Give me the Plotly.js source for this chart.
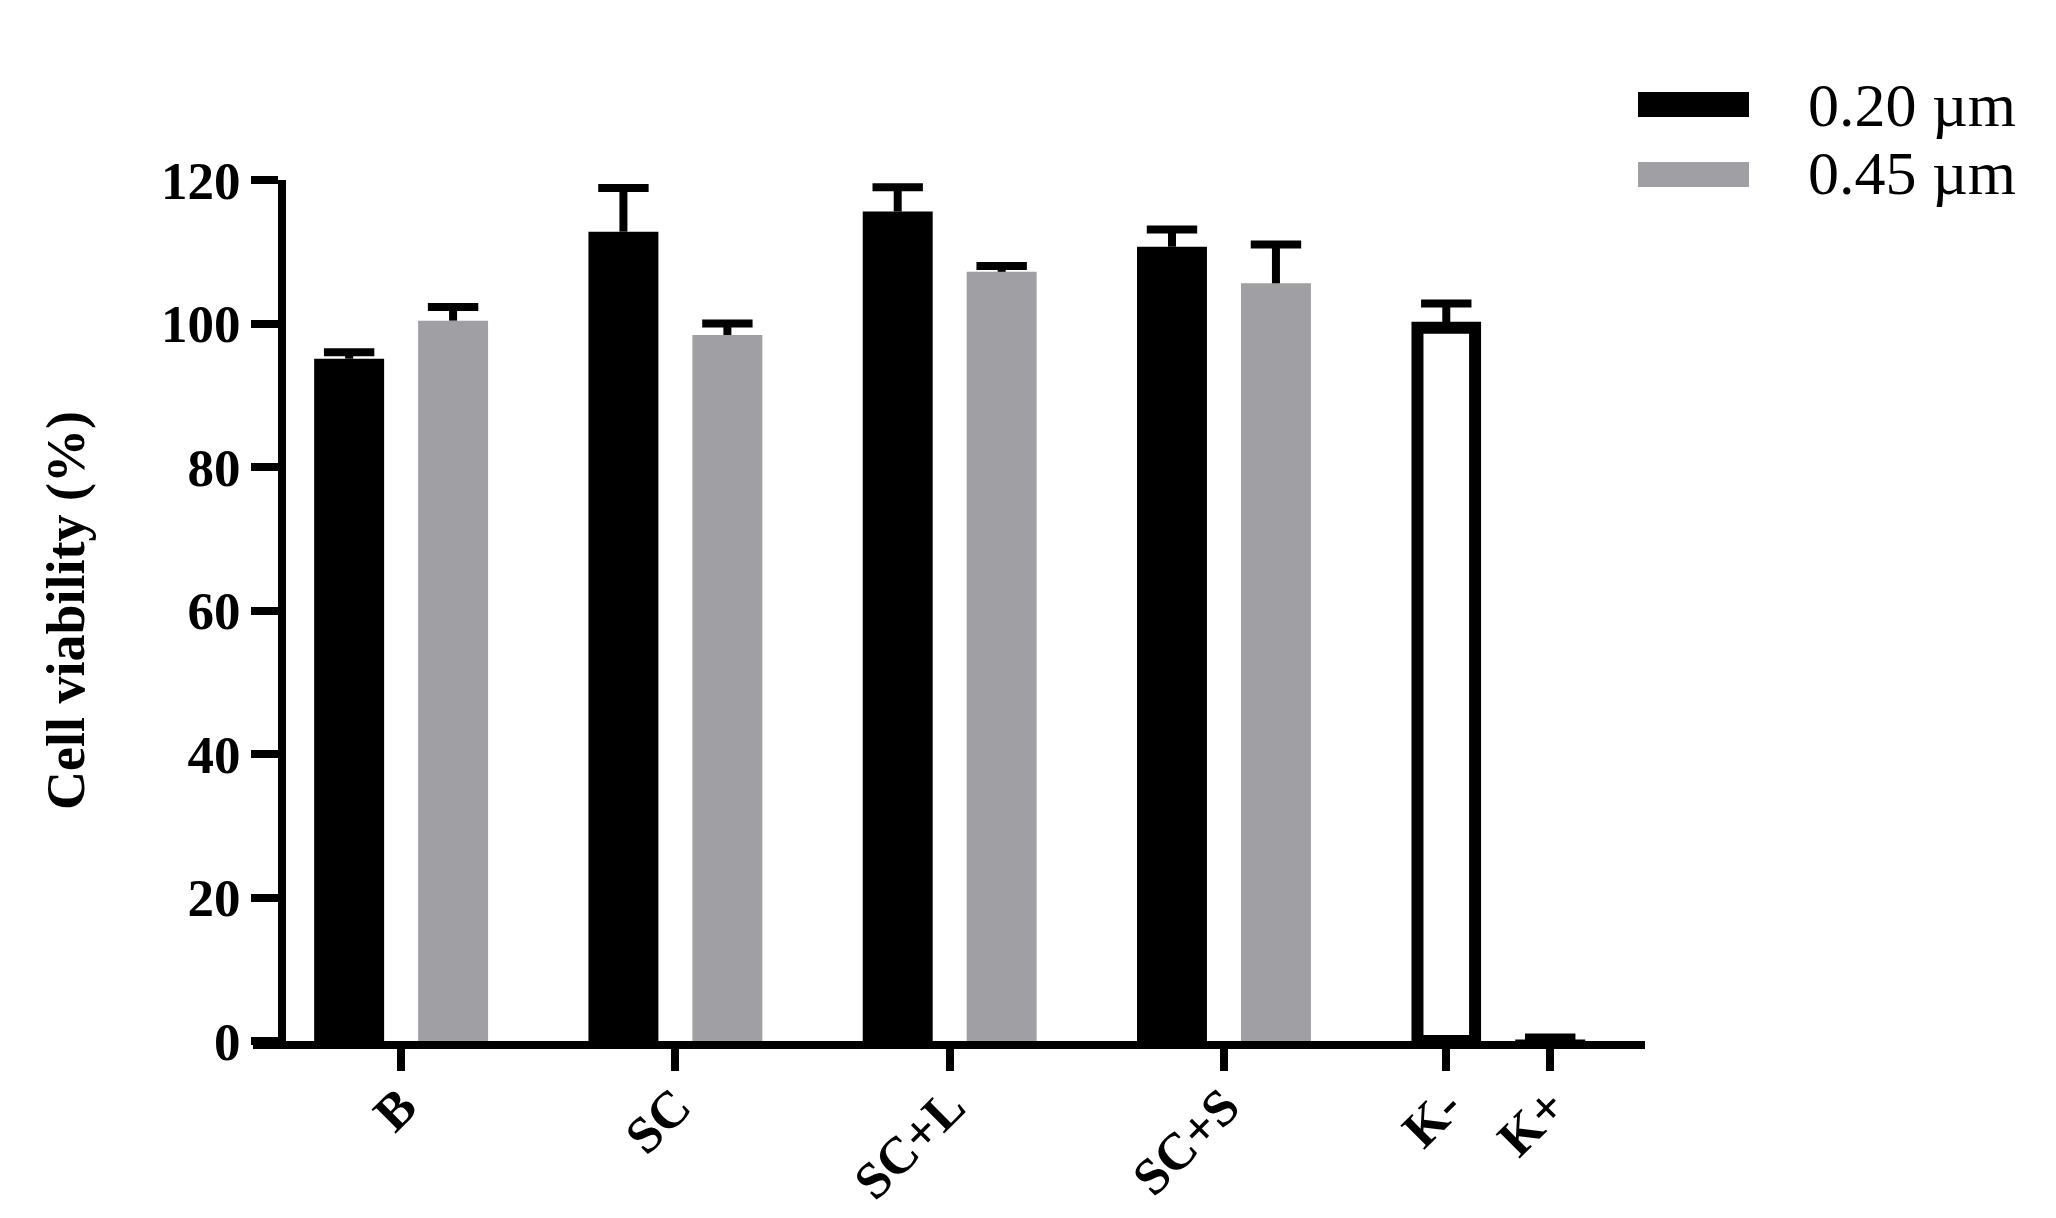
<!DOCTYPE html>
<html>
<head>
<meta charset="utf-8">
<script src="https://cdn.plot.ly/plotly-3.0.1.min.js"></script>
<style>
  html, body { margin: 0; padding: 0; background: #fff; }
  #plot { width: 2056px; height: 1218px; }
</style>
</head>
<body>
<div id="plot"></div>
<script>
// groups with both filter sizes
const groups = ["B", "SC", "SC+L", "SC+S"];
const series1Name = "0.20 \u00b5m";
const series2Name = "0.45 \u00b5m";
const viab020 = [95.1, 112.8, 115.6, 110.7];
const err020 = [0.9, 6.1, 3.4, 2.4];
const viab045 = [100.4, 98.4, 107.2, 105.6];
const err045 = [1.9, 1.6, 0.8, 5.4];

// controls, drawn in the last group
const controls = ["K-", "K+"];
const ctrlValues = [99.4, 0.2];
const ctrlErr = [3.4, 0.3];

const black = "#000000";
const gray = "#a09fa4";
const serif = "Liberation Serif, Times New Roman, serif";

const bargap = 0.242;
const bargroupgap = 0.327;
const off = (1 - bargap) / 4; // distance of each bar from its group centre

const gx = groups.map((g, i) => i);
const kx = groups.length;

// plot area in pixels
const L = 253, R = 1645, T = 180, B = 1041;
const W = 2056, H = 1218;
const px = v => (v - L) / (R - L);
const py = v => (B - v) / (B - T);

const stem = {type: "data", symmetric: false, width: 0, thickness: 8, color: black};

const traces = [
  {
    type: "bar", name: series1Name, x: gx, y: viab020, offsetgroup: "a",
    marker: {color: black, line: {width: 0}},
    error_y: Object.assign({array: err020, arrayminus: err020.map(() => 0)}, stem)
  },
  {
    type: "bar", name: series2Name, x: gx, y: viab045, offsetgroup: "b",
    marker: {color: gray, line: {width: 0}},
    error_y: Object.assign({array: err045, arrayminus: err045.map(() => 0)}, stem)
  },
  {
    type: "bar", name: controls[0], x: [kx], y: [ctrlValues[0]], offsetgroup: "a",
    width: 0.21,
    marker: {color: "#ffffff", line: {width: 12, color: black}},
    error_y: Object.assign({array: [ctrlErr[0]], arrayminus: [0]}, stem)
  },
  {
    type: "bar", name: controls[1], x: [kx], y: [ctrlValues[1]], offsetgroup: "b",
    marker: {color: black, line: {width: 0}},
    error_y: Object.assign({array: [ctrlErr[1]], arrayminus: [0]}, stem)
  }
];

// error bar caps
const capX = [], capY = [];
gx.forEach((x, i) => {
  capX.push(x - off); capY.push(viab020[i] + err020[i]);
  capX.push(x + off); capY.push(viab045[i] + err045[i]);
});
capX.push(kx - off); capY.push(ctrlValues[0] + ctrlErr[0]);
capX.push(kx + off); capY.push(ctrlValues[1] + ctrlErr[1]);
traces.push({
  type: "scatter", mode: "markers", x: capX, y: capY, hoverinfo: "skip",
  marker: {symbol: "line-ew", size: 36, color: black, line: {width: 8, color: black}}
});

const tickvals = gx.concat([kx - off, kx + off]);
const ticktext = groups.concat(controls);

// legend drawn by hand so the swatches can be wide bars
const legendRows = [
  {name: series1Name, color: black, y0: 92, y1: 117, ty: 105},
  {name: series2Name, color: gray, y0: 162, y1: 187, ty: 173}
];
const shapes = legendRows.map(r => ({
  type: "rect", xref: "paper", yref: "paper",
  x0: px(1638), x1: px(1749), y0: py(r.y1), y1: py(r.y0),
  fillcolor: r.color, line: {width: 0}
}));
const annotations = legendRows.map(r => ({
  xref: "paper", yref: "paper", x: px(1806), y: py(r.ty),
  xanchor: "left", yanchor: "middle", showarrow: false, text: r.name,
  font: {family: serif, size: 62, color: black}
}));

const layout = {
  width: W, height: H,
  margin: {l: L, r: W - R, t: T, b: H - B},
  paper_bgcolor: "#ffffff", plot_bgcolor: "#ffffff",
  showlegend: false,
  barmode: "group", bargap: bargap, bargroupgap: bargroupgap,
  xaxis: {
    range: [-0.54, 4.535],
    showline: true, linewidth: 8, linecolor: black,
    showgrid: false, zeroline: false,
    ticks: "outside", ticklen: 22, tickwidth: 8, tickcolor: black,
    tickmode: "array", tickvals: tickvals, ticktext: ticktext,
    tickangle: -45, ticklabelstandoff: -16,
    tickfont: {family: serif, size: 52, color: black, weight: "bold"}
  },
  yaxis: {
    range: [0, 120], anchor: "free", position: px(282),
    showline: true, linewidth: 8, linecolor: black,
    showgrid: false, zeroline: false,
    ticks: "outside", ticklen: 27, tickwidth: 8, tickcolor: black,
    tickmode: "linear", tick0: 0, dtick: 20,
    tickfont: {family: serif, size: 53, color: black, weight: "bold"},
    title: {text: "Cell viability (%)", standoff: 58,
      font: {family: serif, size: 54, color: black, weight: "bold"}}
  },
  shapes: shapes,
  annotations: annotations
};

Plotly.newPlot("plot", traces, layout, {displayModeBar: false, staticPlot: true});
</script>
</body>
</html>
